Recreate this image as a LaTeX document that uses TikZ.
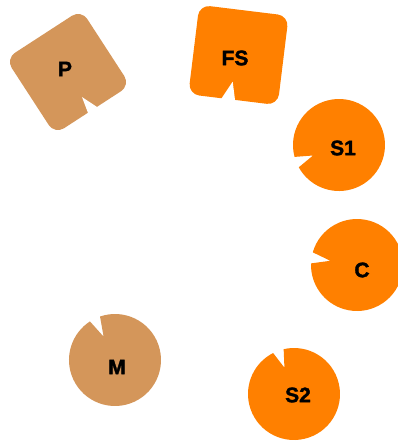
\documentclass[tikz,border=0pt]{standalone}
\usepackage{fontspec}
\setmainfont{Liberation Sans}
\newfontfamily\heavyfont{Liberation Sans}[BoldFeatures={FakeBold=1.6}]
\definecolor{orng}{RGB}{255,128,0}
\definecolor{tanbrown}{RGB}{212,150,90}
\begin{document}
\begin{tikzpicture}[x=1pt,y=-1pt,
  lbl/.style={font=\heavyfont\fontsize{21}{21}\selectfont\bfseries}]
\useasboundingbox (0,0) rectangle (398,442);

% rounded squares with a notch
\begin{scope}[shift={(68,72)},rotate=33]
  \fill[tanbrown,rounded corners=11] (-45,-45) rectangle (45,45);
  \fill[white] (-5.9,47) -- (-1.9,28.6) -- (6.1,47) -- cycle;
\end{scope}
\node[lbl] (P) at (65,69) {P};

\begin{scope}[shift={(238.5,55)},rotate=-7]
  \fill[orng,rounded corners=11] (-45,-45) rectangle (45,45);
  \fill[white] (-12.5,47) -- (-2.5,27.2) -- (2.5,47) -- cycle;
\end{scope}
\node[lbl] (FS) at (235,58) {FS};

% circles with a notch
\foreach \nm/\cx/\cy/\dir/\dep/\col/\lx/\ly in
  {S1/339/145/158/28/orng/343/148,
   C/357/265/189/27/orng/362/270,
   M/115/360/244/26/tanbrown/117/367,
   S2/294/394/250/28/orng/298/395}
{
  \fill[\col] ([shift={(\dir:\dep)}]\cx,\cy) -- ([shift={(\dir+7:46)}]\cx,\cy)
    arc[start angle=\dir+7, end angle=\dir+353, radius=46] -- cycle;
  \node[lbl] (\nm) at (\lx,\ly) {\nm};
}
\end{tikzpicture}
\end{document}
